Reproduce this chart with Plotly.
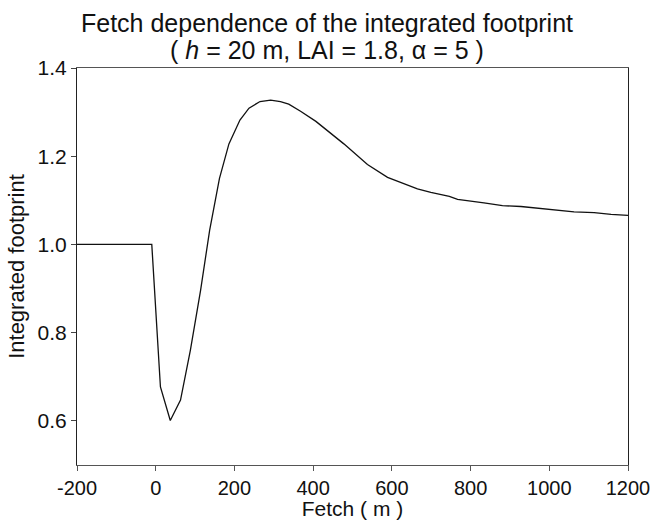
import plotly.graph_objects as go

# Fetch (m) and integrated footprint values
fetch = [-200, -10, 12, 37, 63, 88, 114, 137, 152, 162, 186, 214, 237, 265, 292, 317,
         338, 368, 407, 436, 478, 538, 589, 665, 699, 746, 767, 834, 881, 928, 970,
         1021, 1063, 1114, 1157, 1200]
footprint = [1.0, 1.0, 0.677, 0.601, 0.647, 0.76, 0.896, 1.032, 1.103, 1.15, 1.228, 1.282,
             1.309, 1.324, 1.327, 1.324, 1.318, 1.302, 1.279, 1.258, 1.228, 1.181, 1.152,
             1.126, 1.118, 1.109, 1.102, 1.094, 1.088, 1.086, 1.082, 1.077, 1.074, 1.072,
             1.068, 1.066]

x_ticks = [-200, 0, 200, 400, 600, 800, 1000, 1200]
x_ticktext = ["-200", "0", "200", "400", "600", "800", "1000", "1200"]
y_ticks = [0.6, 0.8, 1.0, 1.2, 1.4]

title_lines = ["Fetch dependence of the integrated footprint",
               "( <i>h</i> = 20 m, LAI = 1.8, α = 5 )"]

font = "Liberation Sans, Arial, sans-serif"

fig = go.Figure(
    go.Scatter(x=fetch, y=footprint, mode="lines",
               line=dict(color="#111", width=1.3), showlegend=False)
)

fig.update_layout(
    width=654, height=520,
    margin=dict(l=77, r=26, t=68, b=55),
    paper_bgcolor="white", plot_bgcolor="white",
    font=dict(family=font, size=20, color="#111"),
)

# Two-line heading drawn as separate annotations for tight line spacing
for text, ypos in zip(title_lines, [1.113, 1.045]):
    fig.add_annotation(
        text=text, xref="paper", yref="paper", x=0.454, y=ypos,
        xanchor="center", yanchor="middle", showarrow=False,
        font=dict(family=font, size=25, color="#111"),
    )

fig.update_xaxes(
    range=[-200, 1200], tickvals=x_ticks, ticktext=x_ticktext,
    showgrid=False, zeroline=False, showline=True, linecolor="#555", linewidth=1,
    mirror=True, ticks="outside", ticklen=5, tickcolor="#555", automargin=False,
    title=dict(text="Fetch ( m )", standoff=3, font=dict(size=21)),
    tickfont=dict(size=20),
)
fig.update_yaxes(
    range=[0.5, 1.4], tickvals=y_ticks, tickformat=".1f",
    showgrid=False, zeroline=False, showline=True, linecolor="#222", linewidth=1,
    mirror=True, ticks="outside", ticklen=5, tickcolor="#444", automargin=False,
    title=dict(text="Integrated footprint", standoff=6, font=dict(size=22)),
    tickfont=dict(size=21),
)

fig.write_html("out.html")
